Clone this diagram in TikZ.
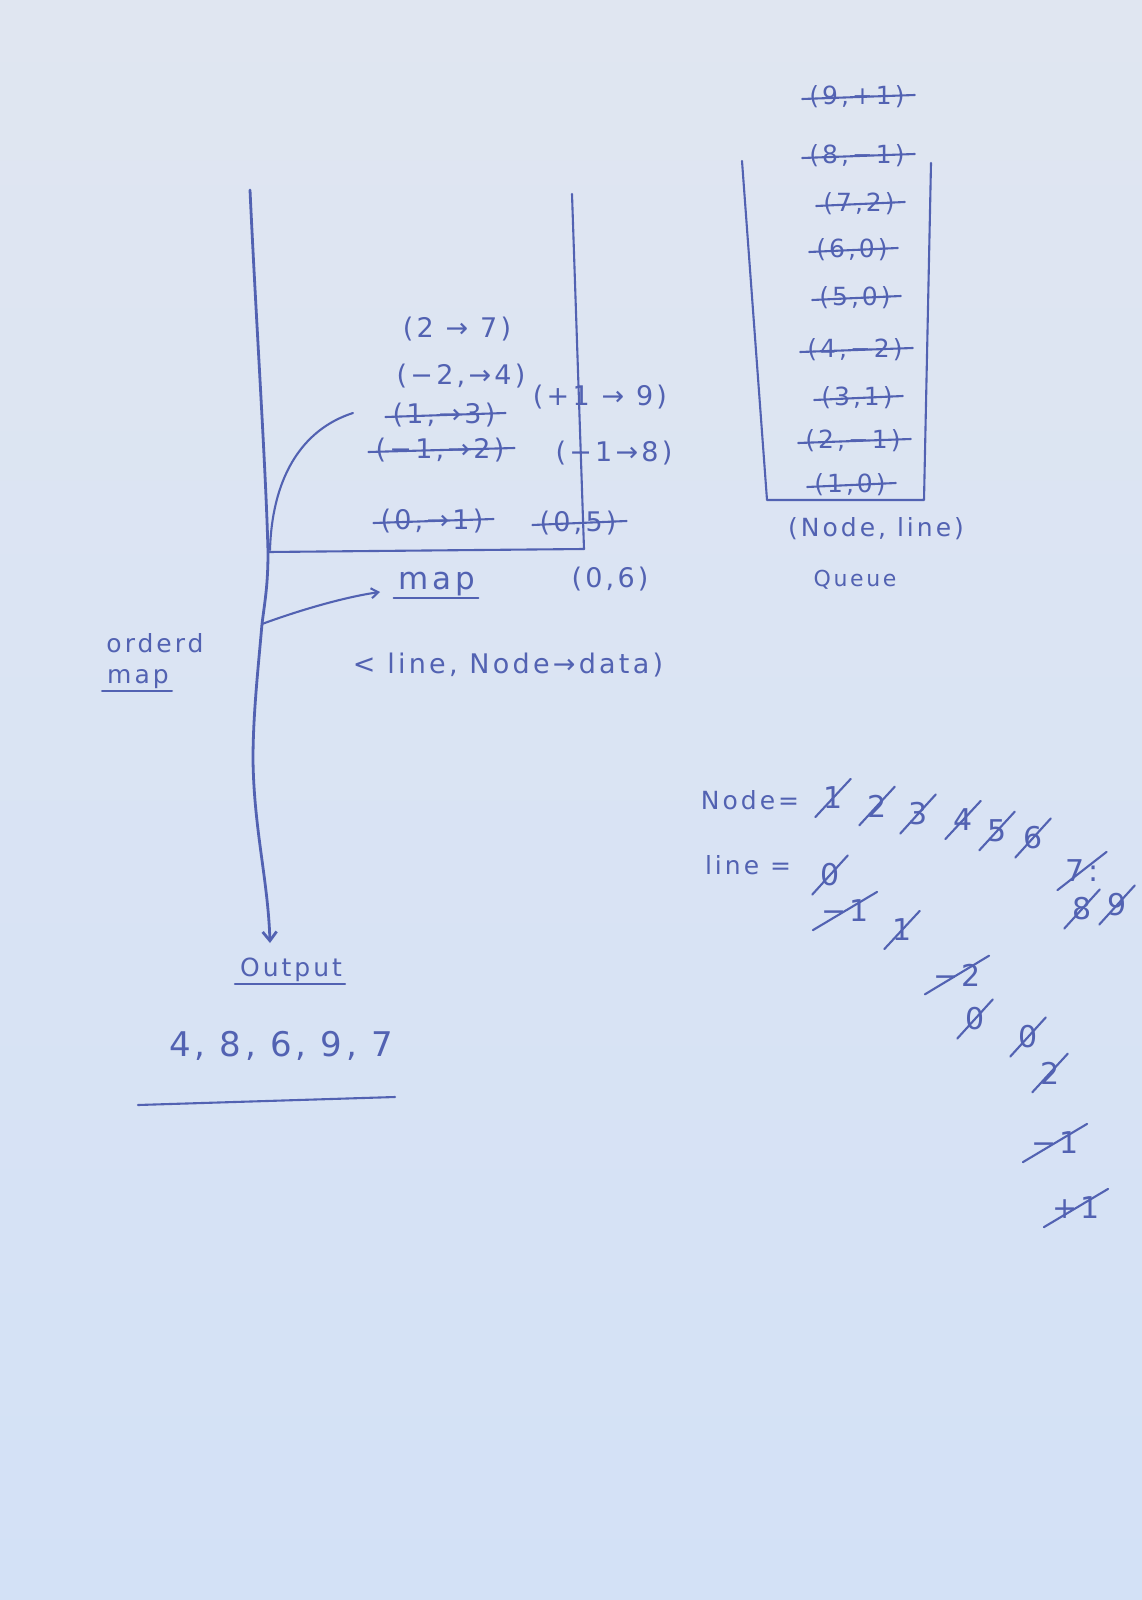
\documentclass[tikz,border=0pt]{standalone}
\usepackage{fontspec}
\setmainfont{DejaVu Sans}
\newfontfamily\hand[LetterSpace=12]{DejaVu Sans}
\usetikzlibrary{arrows.meta}
\definecolor{papertop}{RGB}{224,230,241}
\definecolor{paperbot}{RGB}{211,225,246}
\definecolor{ink}{RGB}{82,98,178}
\newcommand{\strk}[1]{\draw[inkline] ([xshift=-6pt,yshift=-2pt]#1.west) -- ([xshift=9pt,yshift=2pt]#1.east);}
\newcommand{\slsh}[1]{\draw[inkline] ([shift={(-7,7)}]#1.south west) -- ([shift={(7,-7)}]#1.north east);}
\newcommand{\undl}[1]{\draw[inkline] ([xshift=-4pt,yshift=-1pt]#1.south west) -- ([xshift=2pt,yshift=-1pt]#1.south east);}
\begin{document}
\begin{tikzpicture}[x=1pt,y=-1pt,
  inkline/.style={draw=ink, line width=2.1pt, line cap=round, line join=round},
  mainline/.style={inkline, line width=2.8pt},
  hw/.style={text=ink, font=\hand\fontsize{27}{30}\selectfont, inner sep=1pt},
  qitem/.style={text=ink, font=\hand\fontsize{25}{28}\selectfont, inner sep=1pt},
  small/.style={text=ink, font=\hand\fontsize{25}{28}\selectfont, inner sep=1pt},
  big/.style={text=ink, font=\hand\fontsize{34}{38}\selectfont, inner sep=1pt},
  digit/.style={text=ink, font=\hand\fontsize{30}{32}\selectfont, inner sep=1pt}]
\shade[top color=papertop, bottom color=paperbot] (0,0) rectangle (1142,1600);
\useasboundingbox (0,0) rectangle (1142,1600);

% ---- map structure ----
\coordinate (top) at (250,190);
\coordinate (base) at (268,552);
\coordinate (mid) at (262,624);
\coordinate (rtop) at (572,194);
\coordinate (rbase) at (584,549);
\coordinate (arcend) at (353,413);
\coordinate (arrend) at (380,592);

\node[hw] (t27) at (457,329) {(2 → 7)};
\node[hw] (tm24) at (461,376) {(−2,→4)};
\node[hw] (t13) at (444,415) {(1,→3)};
\node[hw] (tp19) at (600,397) {(+1 → 9)};
\node[hw] (tm12) at (440,450) {(−1,→2)};
\node[hw] (tm18) at (614,453) {(−1→8)};
\node[hw] (t01) at (432,521) {(0,→1)};
\node[hw] (t05) at (578,523) {(0,5)};
\node[text=ink, font=\hand\fontsize{31}{34}\selectfont, inner sep=1pt] (tmap) at (437,584) {map};
\node[hw] (t06) at (610,579) {(0,6)};
\node[hw] (tkey) at (508,665) {< line, Node→data)};
\node[small] (ord) at (155,643) {orderd};
\node[small] (ordmap) at (138,679) {map};
\node[small] (outp) at (291,970) {Output};
\node[big] (res) at (281,1046) {4,\hspace{14pt}8,\hspace{14pt}6,\hspace{14pt}9,\hspace{14pt}7};

\strk{t13}
\strk{tm12}
\strk{t01}
\strk{t05}
\undl{tmap}
\undl{ordmap}
\undl{outp}
\draw[inkline] (138,1105) -- (395,1097);

\draw[mainline, -{Straight Barb[length=9pt,width=14pt]}] (top) .. controls (256,320) and (266,470) .. (base)
  .. controls (268,585) and (265,600) .. (mid)
  .. controls (258,670) and (253,715) .. (253,760)
  .. controls (254,830) and (268,880) .. (270,943);
\draw[inkline] (rtop) -- (rbase);
\draw[inkline] (base) -- (rbase);
\draw[inkline] (270,550) .. controls (272,480) and (300,430) .. (arcend);
\draw[inkline, -{Straight Barb[length=7pt,width=10pt]}] (mid) .. controls (300,610) and (345,597) .. (arrend);

% ---- queue ----
\coordinate (qtl) at (742,161);
\coordinate (qbl) at (767,500);
\coordinate (qbr) at (924,500);
\coordinate (qtr) at (931,163);
\draw[inkline] (qtl) -- (qbl) -- (qbr) -- (qtr);

\node[qitem] (q9) at (857,97) {(9,+1)};
\node[qitem] (q8) at (857,156) {(8,−1)};
\node[qitem] (q7) at (859,204) {(7,2)};
\node[qitem] (q6) at (852,250) {(6,0)};
\node[qitem] (q5) at (855,298) {(5,0)};
\node[qitem] (q4) at (855,350) {(4,−2)};
\node[qitem] (q3) at (857,398) {(3,1)};
\node[qitem] (q2) at (853,441) {(2,−1)};
\node[qitem] (q1) at (850,485) {(1,0)};
\node[qitem] (qlab) at (876,529) {(Node, line)};
\node[text=ink, font=\hand\fontsize{22}{24}\selectfont] (queue) at (855,580) {Queue};
\foreach \q in {q9,q8,q7,q6,q5,q4,q3,q2,q1} {\strk{\q}}

% ---- node / line lists ----
\node[small] (nodeeq) at (750,800) {Node=};
\node[small] (lineeq) at (748,865) {line =};
\node[digit] (n1) at (833,798) {1};
\node[digit] (n2) at (877,806) {2};
\node[digit] (n3) at (918,814) {3};
\node[digit] (n4) at (963,820) {4};
\node[digit] (n5) at (997,831) {5};
\node[digit] (n6) at (1033,838) {6};
\node[digit] (n7) at (1082,871) {7:};
\node[digit] (n8) at (1082,909) {8};
\node[digit] (n9) at (1117,905) {9};
\node[digit] (l1) at (830,875) {0};
\node[digit] (l2) at (845,911) {−1};
\node[digit] (l3) at (902,930) {1};
\node[digit] (l4) at (957,975) {−2};
\node[digit] (l5) at (975,1019) {0};
\node[digit] (l6) at (1028,1037) {0};
\node[digit] (l7) at (1050,1073) {2};
\node[digit] (l8) at (1055,1143) {−1};
\node[digit] (l9) at (1076,1208) {+1};
\foreach \n in {n1,n2,n3,n4,n5,n6,n7,n8,n9,l1,l2,l3,l4,l5,l6,l7,l8,l9} {\slsh{\n}}
\end{tikzpicture}
\end{document}
